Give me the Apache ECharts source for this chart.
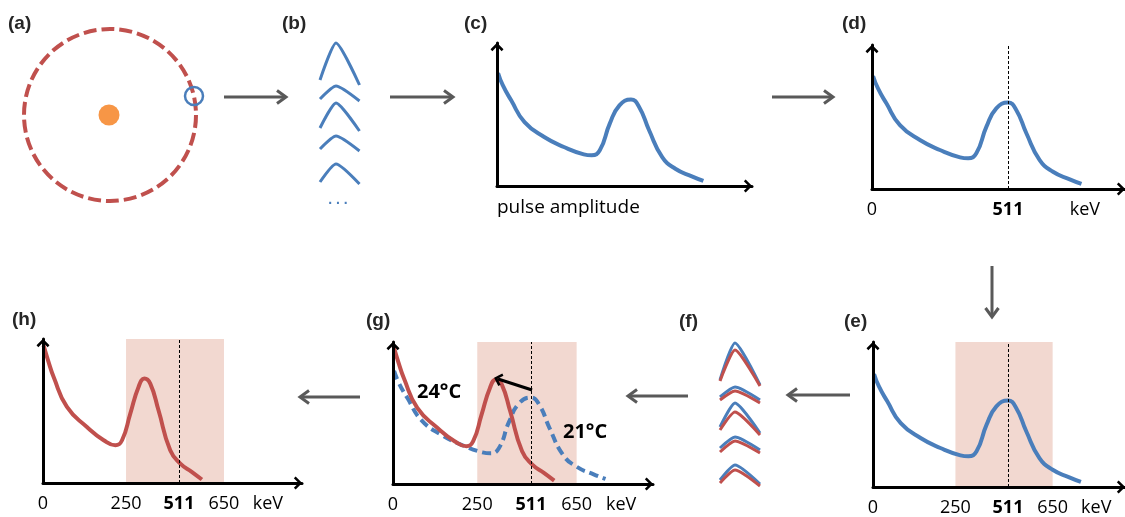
<!DOCTYPE html>
<html><head><meta charset="utf-8">
<script src="https://cdn.jsdelivr.net/npm/echarts@6/dist/echarts.min.js"></script>
<style>html,body{margin:0;padding:0;background:#fff}#c{width:1125px;height:517px}</style>
</head><body><div id="c"></div>
<script>
const BLUE = '#4a7ebb', RED = '#c0504d', ORANGE = '#f79646', SHADE = '#f2d8d0', GRAY = '#595959';
const FONT = '"Open Sans", "Noto Sans", sans-serif';

// energy spectrum at 21 °C (blue) on the schematic keV axis
const spec21X = [4, 22, 54, 105, 180, 255, 331, 361, 392, 430, 467, 511, 542, 580, 630, 680, 743, 787];
const spec21Y = [78.5, 70, 59.5, 44.4, 34.0, 27.1, 22.0, 21.3, 24.8, 43.3, 56.0, 60.0, 54.9, 38.7, 20.1, 12.0, 6.7, 3.5];
// energy spectrum at 24 °C (red), photopeak shifted down
const spec24X = [2, 21, 40, 90, 165, 228, 272, 297, 328, 359, 381, 403, 434, 478, 516, 560, 597];
const spec24Y = [95.6, 84, 73.6, 52.8, 38.9, 29.7, 26.2, 29.7, 48.2, 66.7, 72.5, 69.0, 50.5, 22.7, 13.5, 7.6, 2.4];

const photopeak = 511;
const windowEdges = [312, 680];                 // drawn positions of the energy window
const tickValuesD = [0, 511, 800];
const tickLabelsD = ['0', '511', 'keV'];
const tickValuesW = [0, 312, 511, 680, 845];
const tickLabelsW = ['0', '250', '511', '650', 'keV'];
const shiftFrom = [515, 65.3];                  // peak shift arrow in (g)
const shiftTo = [389, 72.9];

// pulses (b): [left base, peak, right base] vertical positions; pulse time samples
const pulseT = [0, 16, 39.5];
const pulsesB = [[80, 43, 85], [99, 86, 101], [128, 103, 131], [149, 136, 151], [182, 164, 184]];
// pulses (f): 21 °C (blue) and 24 °C (red)
const pulseTF = [0, 15, 40];
const pulsesF21 = [[380, 343, 385], [397, 387, 400], [427, 403, 433], [448, 437, 450], [480, 465, 484]];
const pulsesF24 = [[381, 350, 386], [400, 391, 403], [430, 412, 435], [452, 441, 453], [483, 470, 486]];

// detector ring (a): ring centre, source, crystal position
const ringCentre = [0, 0];
const sourcePos = [-1, 0];
const crystalPos = [84, 19];

const CHEV = 'path://M0,6.5L6.5,0L13,6.5L11.2,8.3L6.5,3.6L1.8,8.3Z';

const zip = (xs, ys) => xs.map((x, i) => [x, ys[i]]);
const PXY = 1.44;

// chart panels layout: grid box and the pixel distance of 511 from origin
const panels = {
  c: {left: 497, top: 43, width: 255, height: 143, peakPx: 134},
  d: {left: 872, top: 45, width: 253, height: 144, peakPx: 136},
  e: {left: 873, top: 342, width: 252, height: 145, peakPx: 135},
  g: {left: 393, top: 342, width: 260, height: 142, peakPx: 138},
  h: {left: 43, top: 339, width: 259, height: 144, peakPx: 136}
};
const grids = [], xAxes = [], yAxes = [], series = [];
function addHidden(box, xr, yr, yInv) {
  const i = grids.length;
  grids.push(Object.assign({containLabel: false}, box));
  xAxes.push({gridIndex: i, type: 'value', min: xr[0], max: xr[1], show: false});
  yAxes.push({gridIndex: i, type: 'value', min: yr[0], max: yr[1], show: false, inverse: !!yInv});
  return i;
}
const axisLineStyle = {show: true, onZero: false, lineStyle: {color: '#000', width: 3}, symbol: ['none', CHEV], symbolSize: [13, 8.3], symbolOffset: [0, -4]};
const labelStyle = {fontFamily: FONT, fontSize: 18, color: '#000'};
function addChart(key, ticks, labels, extraLabel) {
  const p = panels[key];
  const i = grids.length;
  grids.push({left: p.left, top: p.top, width: p.width, height: p.height});
  const xMax = p.width * photopeak / p.peakPx;
  const xa = {gridIndex: i, type: 'value', min: 0, max: xMax, z: 4,
    axisLine: axisLineStyle, axisTick: {show: false}, splitLine: {show: false}};
  if (ticks) {
    xa.axisLabel = Object.assign({show: true, margin: 12, customValues: ticks,
      formatter: v => { const k = ticks.indexOf(v); const t = k >= 0 ? labels[k] : ''; return t === '511' ? '{b|511}' : t; },
      rich: {b: Object.assign({fontWeight: 'bold'}, labelStyle)}}, labelStyle, extraLabel || {});
  } else xa.axisLabel = {show: false};
  xAxes.push(xa);
  yAxes.push({gridIndex: i, type: 'value', min: 0, max: p.height / PXY, z: 4,
    axisLine: axisLineStyle, axisTick: {show: false}, splitLine: {show: false}, axisLabel: {show: false}});
  return i;
}
const curve = (i, xs, ys, color, dashed, z) => ({
  type: 'line', xAxisIndex: i, yAxisIndex: i, data: zip(xs, ys), smooth: 0.5,
  symbol: 'none', silent: true, z: z || 2,
  lineStyle: {color, width: 4, type: dashed ? [9, 5] : 'solid', cap: 'butt'}
});
const peakLine = {silent: true, symbol: 'none', label: {show: false},
  lineStyle: {color: '#000', width: 1, type: [3, 2]}, data: [{xAxis: photopeak}]};
const windowSeries = (i) => ({
  type: 'line', xAxisIndex: i, yAxisIndex: i, data: [], z: 1, silent: true,
  markArea: {silent: true, itemStyle: {color: SHADE, opacity: 1}, data: [[{xAxis: windowEdges[0]}, {xAxis: windowEdges[1]}]]},
  markLine: peakLine
});

// (a) detector ring
const ia = addHidden({left: 0, top: 0, width: 220, height: 230}, [-110, 110], [-115, 115]);
series.push({type: 'scatter', xAxisIndex: ia, yAxisIndex: ia, silent: true, data: [
  {value: ringCentre, symbolSize: 172, itemStyle: {opacity: 1, color: 'rgba(0,0,0,0)', borderColor: RED, borderWidth: 4, borderType: [13, 5]}},
  {value: sourcePos, symbolSize: 21, itemStyle: {opacity: 1, color: ORANGE}},
  {value: crystalPos, symbolSize: 18, itemStyle: {opacity: 1, color: 'rgba(0,0,0,0)', borderColor: BLUE, borderWidth: 2.5}}
]});

// (b) pulses
const ib = addHidden({left: 320, top: 0, width: 40, height: 517}, [0, 40], [0, 517], true);
pulsesB.forEach(p => series.push({type: 'line', xAxisIndex: ib, yAxisIndex: ib, data: zip(pulseT, p), symbol: 'none', silent: true,
  smooth: 0.2, lineStyle: {color: BLUE, width: 3, join: 'round'}}));

// (f) pulses 21 vs 24
const iff = addHidden({left: 720, top: 0, width: 40, height: 517}, [0, 40], [0, 517], true);
pulsesF21.forEach(p => series.push({type: 'line', xAxisIndex: iff, yAxisIndex: iff, data: zip(pulseTF, p), symbol: 'none', silent: true,
  smooth: 0.2, lineStyle: {color: BLUE, width: 3, join: 'round'}}));
pulsesF24.forEach(p => series.push({type: 'line', xAxisIndex: iff, yAxisIndex: iff, data: zip(pulseTF, p), symbol: 'none', silent: true,
  smooth: 0.2, lineStyle: {color: RED, width: 3, join: 'round'}}));

// (c)
const ic = addChart('c', [0], ['pulse amplitude'], {align: 'left', margin: 12, fontSize: 19});
series.push(curve(ic, spec21X, spec21Y, BLUE));
// (d)
const id = addChart('d', tickValuesD, tickLabelsD);
series.push(Object.assign(curve(id, spec21X, spec21Y, BLUE), {markLine: peakLine}));
// (e)
const ie = addChart('e', tickValuesW, tickLabelsW);
series.push(windowSeries(ie));
series.push(curve(ie, spec21X, spec21Y, BLUE));
// (g)
const ig = addChart('g', tickValuesW, tickLabelsW);
series.push(windowSeries(ig));
series.push(curve(ig, spec21X, spec21Y, BLUE, true));
series.push(Object.assign(curve(ig, spec24X, spec24Y, RED, false, 3), {
  markLine: {silent: true, symbol: ['none', CHEV], symbolSize: [13, 8.3], label: {show: false},
    lineStyle: {color: '#000', width: 3, type: 'solid'}, data: [[{coord: shiftFrom}, {coord: shiftTo}]]}
}));
// (h)
const ih = addChart('h', tickValuesW, tickLabelsW);
series.push(windowSeries(ih));
series.push(curve(ih, spec24X, spec24Y, RED));

// connectors and labels
function arrowEl(x1, y1, x2, y2) {
  const dx = x2 - x1, dy = y2 - y1, L = Math.hypot(dx, dy), ux = dx / L, uy = dy / L, px = -uy, py = ux;
  const hb = 9, hw = 6.5;
  return {type: 'group', silent: true, z: 100, children: [
    {type: 'line', z: 100, shape: {x1, y1, x2: x2 - ux * 1.5, y2: y2 - uy * 1.5}, style: {stroke: GRAY, lineWidth: 3}},
    {type: 'polyline', z: 100, shape: {points: [[x2 - ux * hb + px * hw, y2 - uy * hb + py * hw], [x2, y2], [x2 - ux * hb - px * hw, y2 - uy * hb - py * hw]]},
      style: {stroke: GRAY, lineWidth: 3, fill: null}}
  ]};
}
const letters = [['(a)', 8, 24], ['(b)', 282, 24], ['(c)', 464, 24], ['(d)', 842, 24],
  ['(e)', 844, 322], ['(f)', 679, 322], ['(g)', 366, 321], ['(h)', 12, 320]];
const graphic = [
  arrowEl(224, 97, 286, 97), arrowEl(390, 97, 453, 97), arrowEl(772, 97, 833, 97),
  arrowEl(992, 266, 992, 317), arrowEl(850, 395, 788, 395), arrowEl(688, 396, 628, 396), arrowEl(360, 397, 300, 397)
];
letters.forEach(([t, x, y]) => graphic.push({type: 'text', silent: true, z: 100, style: {text: t, x, y, verticalAlign: 'middle',
  font: 'bold 19px "Liberation Sans", Arial, sans-serif', fill: '#262626'}}));
graphic.push({type: 'text', silent: true, z: 100, style: {text: '24°C', x: 417, y: 392, verticalAlign: 'middle', font: 'bold 20px ' + FONT, fill: '#000'}});
graphic.push({type: 'text', silent: true, z: 100, style: {text: '21°C', x: 563, y: 432, verticalAlign: 'middle', font: 'bold 20px ' + FONT, fill: '#000'}});
graphic.push({type: 'text', silent: true, z: 100, style: {text: '. . .', x: 338, y: 200, align: 'center', verticalAlign: 'middle', font: 'bold 14px "Liberation Sans", sans-serif', fill: BLUE}});

const chart = echarts.init(document.getElementById('c'));
chart.setOption({animation: false, grid: grids, xAxis: xAxes, yAxis: yAxes, series, graphic});
</script></body></html>
